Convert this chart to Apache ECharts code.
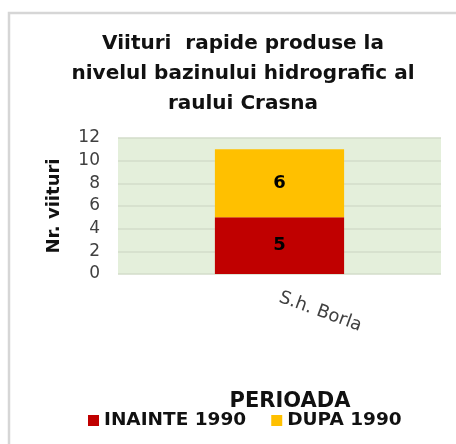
<!DOCTYPE html>
<html>
<head>
<meta charset="utf-8">
<script src="https://cdn.jsdelivr.net/npm/echarts@6/dist/echarts.min.js"></script>
<style>
  html, body { margin: 0; padding: 0; background: #ffffff; }
  #chart { width: 456px; height: 444px; }
</style>
</head>
<body>
<div id="chart"></div>
<script>
// Flash floods per period at the Borla hydrometric station
const categories = ['S.h. Borla'];
const seriesNames = ['INAINTE 1990', 'DUPA 1990'];
const inainte1990 = [5];
const dupa1990 = [6];
const yTicks = { min: 0, max: 12, interval: 2 };

const chart = echarts.init(document.getElementById('chart'), null, { renderer: 'canvas' });
const FONT = 'DejaVu Sans';

chart.setOption({
  backgroundColor: '#ffffff',
  animation: false,
  graphic: [{
    type: 'rect',
    shape: { x: 9, y: 13, width: 470, height: 460 },
    style: { fill: 'none', stroke: '#d6d6d6', lineWidth: 2.5 },
    z: 0
  }],
  title: [{
    text: 'Viituri  rapide produse la\nnivelul bazinului hidrografic al\nraului Crasna',
    left: 238,
    top: 24,
    textAlign: 'center',
    textStyle: {
      fontFamily: FONT, fontWeight: 'bold', fontSize: 20,
      lineHeight: 30, color: '#111111'
    }
  }, {
    text: 'PERIOADA',
    left: 285,
    top: 386,
    textAlign: 'center',
    textStyle: { fontFamily: FONT, fontWeight: 'bold', fontSize: 21, color: '#111111' }
  }],
  legend: {
    data: seriesNames,
    left: 83,
    top: 406,
    itemWidth: 11,
    itemHeight: 11,
    itemGap: 25,
    icon: 'rect',
    textStyle: { fontFamily: FONT, fontWeight: 'bold', fontSize: 18.5, color: '#111111' }
  },
  grid: {
    left: 118, right: 15, top: 138, bottom: 170,
    show: true, backgroundColor: '#e4efdb', borderWidth: 0
  },
  xAxis: {
    type: 'category',
    data: categories,
    axisLine: { show: false },
    axisTick: { show: false },
    axisLabel: {
      rotate: -20, margin: 23,
      fontFamily: FONT, fontSize: 18, color: '#404040'
    }
  },
  yAxis: {
    type: 'value',
    min: yTicks.min, max: yTicks.max, interval: yTicks.interval,
    name: 'Nr. viituri',
    nameLocation: 'middle',
    nameRotate: 90,
    nameGap: 55,
    nameTextStyle: { fontFamily: FONT, fontWeight: 'bold', fontSize: 18, color: '#111111' },
    axisLine: { show: false },
    axisTick: { show: false },
    axisLabel: { margin: 18, fontFamily: FONT, fontSize: 17, color: '#404040' },
    splitLine: { lineStyle: { color: '#d3ddca', width: 1.5 } }
  },
  series: [{
    name: seriesNames[0],
    type: 'bar',
    stack: 'total',
    barWidth: '40%',
    data: inainte1990,
    itemStyle: { color: '#c00000' },
    label: {
      show: true, position: 'inside',
      fontFamily: FONT, fontWeight: 'bold', fontSize: 18, color: '#000000'
    }
  }, {
    name: seriesNames[1],
    type: 'bar',
    stack: 'total',
    barWidth: '40%',
    data: dupa1990,
    itemStyle: { color: '#ffc000' },
    label: {
      show: true, position: 'inside',
      fontFamily: FONT, fontWeight: 'bold', fontSize: 18, color: '#000000'
    }
  }]
});
</script>
</body>
</html>
